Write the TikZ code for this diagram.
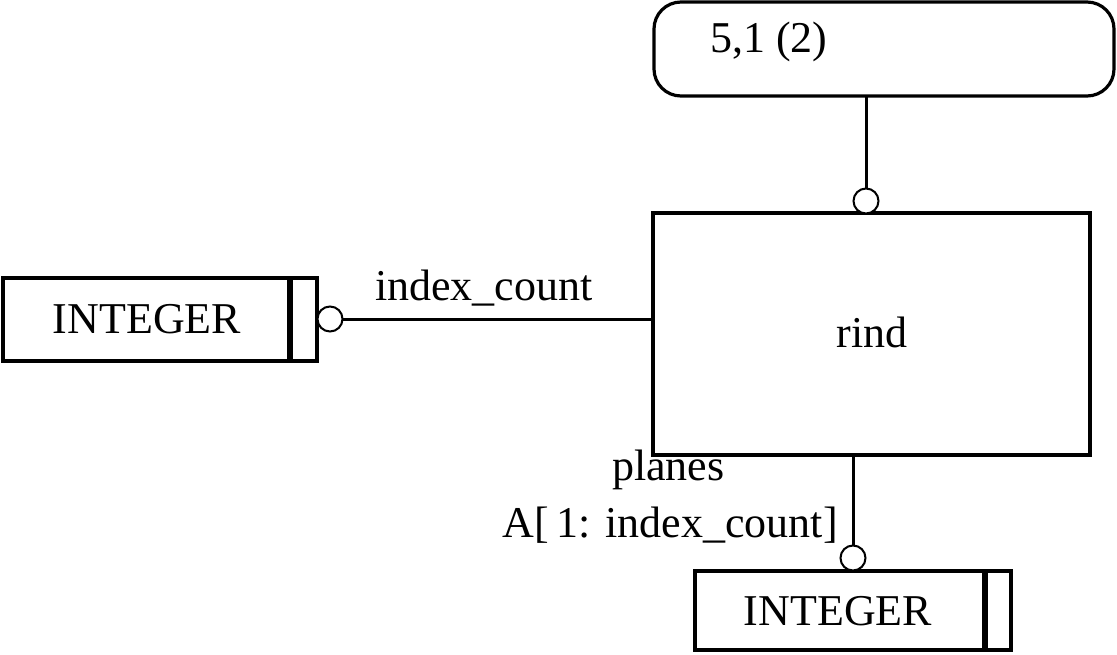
\documentclass[tikz,border=0pt]{standalone}
\usepackage{fontspec}
\setmainfont{Liberation Serif}
\begin{document}
\begin{tikzpicture}[x=1pt,y=-1pt,
  box/.style={draw,line width=3.2pt,rectangle,inner sep=0pt,outer sep=0pt},
  conn/.style={line width=3pt},
  ring/.style={draw,line width=2pt,circle,minimum size=25pt,inner sep=0pt,outer sep=0pt,fill=white},
  txt/.style={inner sep=0pt,font=\fontsize{44}{50}\selectfont},
  bar/.style={line width=5.5pt}]
\useasboundingbox (0,0) rectangle (1117,654);
% boxes
\node[box,rounded corners=27pt,minimum width=460pt,minimum height=94pt] (top) at (884,49) {};
\node[box,minimum width=437pt,minimum height=242pt] (rind) at (871.5,334) {};
\node[box,minimum width=314pt,minimum height=83pt] (intL) at (160,319.5) {};
\node[box,minimum width=316pt,minimum height=79pt] (intB) at (853,610.5) {};
% inner bars of the type boxes
\draw[bar] (290,278) -- (290,361);
\draw[bar] (985,571) -- (985,650);
% texts
\node[txt,anchor=base west] (ref) at (710,52) {5,1 (2)};
\node[txt,anchor=base] (rindlab) at (872,347) {rind};
\node[txt,anchor=base] (intLlab) at (147,333) {INTEGER};
\node[txt,anchor=base] (intBlab) at (838,625) {INTEGER};
\node[txt,anchor=base west] (idx) at (375,300) {index\_count};
\node[txt,anchor=base west] (planes) at (612,480) {planes};
\node[txt,anchor=base east] (arr) at (838,537) {A[\,1: index\_count]};
% circles
\node[ring] (cL) at (330,319) {};
\node[ring] (cT) at (866,201) {};
\node[ring] (cB) at (853,558) {};
% connectors
\draw[conn] (cL.east) -- (cL.east -| rind.west);
\draw[conn] (cT.north) -- (cT.north |- top.south);
\draw[conn] (cB.north) -- (cB.north |- rind.south);
\end{tikzpicture}
\end{document}
